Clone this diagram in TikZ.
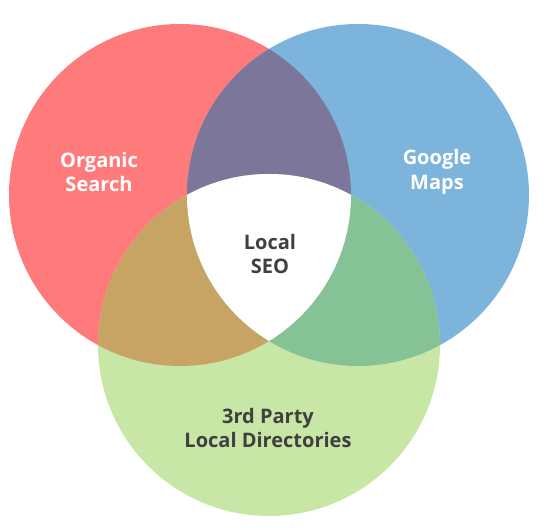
\documentclass[tikz,border=0pt]{standalone}
\usepackage{fontspec}
\setmainfont{Open Sans}
\usetikzlibrary{positioning}
\definecolor{rose}{RGB}{255,123,123}
\definecolor{sky}{RGB}{125,180,220}
\definecolor{lime}{RGB}{200,230,166}
\definecolor{plum}{RGB}{125,118,155}
\definecolor{sand}{RGB}{200,164,100}
\definecolor{mint}{RGB}{133,194,150}
\definecolor{ink}{RGB}{64,64,64}
\tikzset{
  tag/.style={text=#1,align=center,font=\bfseries\fontsize{20}{24.5}\selectfont},
  tag/.default=white,
}
\newcommand{\organic}{(180,335) circle (171)}
\newcommand{\maps}{(358,335) circle (171)}
\newcommand{\directories}{(269,185) circle (171)}

\begin{document}
\begin{tikzpicture}[x=1pt,y=1pt]
  \useasboundingbox (0,0) rectangle (550,530);
  % the three circles
  \fill[rose] \organic;
  \fill[sky] \maps;
  \fill[lime] \directories;
  % pairwise overlaps
  \begin{scope}
    \clip \organic;
    \fill[plum] \maps;
    \fill[sand] \directories;
  \end{scope}
  \begin{scope}
    \clip \maps;
    \fill[mint] \directories;
  \end{scope}
  % centre
  \begin{scope}
    \clip \organic;
    \clip \maps;
    \fill[white] \directories;
  \end{scope}
  % labels
  \node[tag] (search) at (99,358) {Organic\\Search};
  \node[tag] (google) at (437,358) {Google\\Maps};
  \node[tag=ink] (seo) at (270,276) {Local\\SEO};
  \node[tag=ink] (third) at (268,102) {3rd Party\\Local Directories};
\end{tikzpicture}
\end{document}
